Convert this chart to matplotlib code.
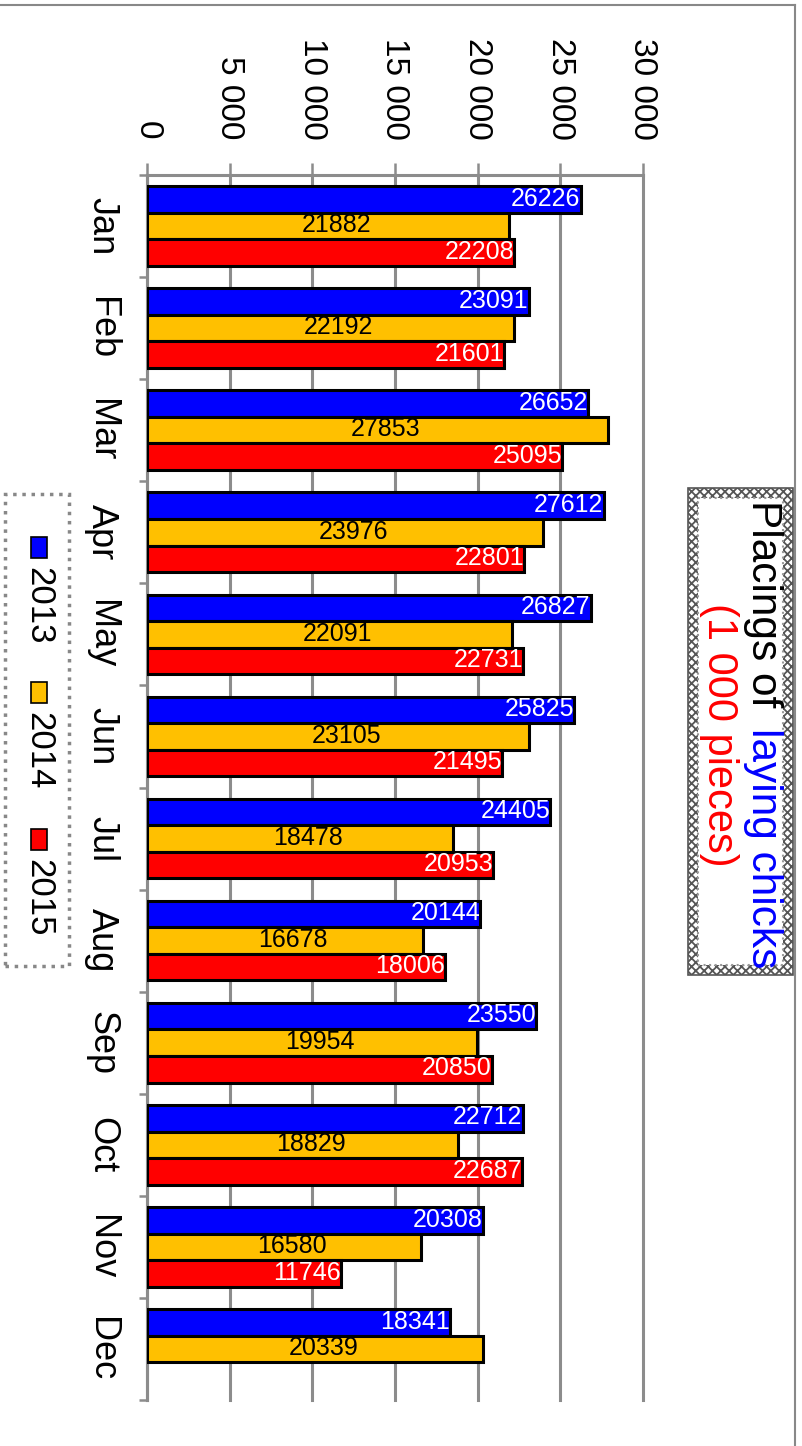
import numpy as np
import matplotlib.pyplot as plt
from matplotlib.patches import Rectangle
from matplotlib.lines import Line2D
from matplotlib.ticker import FuncFormatter

# data: placings of laying chicks, 1 000 pieces
months = ["Jan", "Feb", "Mar", "Apr", "May", "Jun",
          "Jul", "Aug", "Sep", "Oct", "Nov", "Dec"]
years = ["2013", "2014", "2015"]
placings_2013 = [26226, 23091, 26652, 27612, 26827, 25825,
                 24405, 20144, 23550, 22712, 20308, 18341]
placings_2014 = [21882, 22192, 27853, 23976, 22091, 23105,
                 18478, 16678, 19954, 18829, 16580, 20339]
placings_2015 = [22208, 21601, 25095, 22801, 22731, 21495,
                 20953, 18006, 20850, 22687, 11746, np.nan]
colors = ["#0000FF", "#FFC000", "#FF0000"]
label_colors = ["white", "black", "white"]

plt.rcParams["font.family"] = ["Liberation Sans", "DejaVu Sans"]
plt.rcParams["hatch.linewidth"] = 1.3

W, H = 802, 1446
GRAY = "#8c8c8c"


def fx(px):
    return px / W


def fy(py):
    return 1 - py / H


def thousands(v, _=None):
    return f"{int(v):,}".replace(",", " ")


fig = plt.figure(figsize=(W / 100, H / 100), dpi=100)
ax = fig.add_axes([fx(147), fy(1400), fx(643) - fx(147), fy(175) - fy(1400)])

# bars
y = np.arange(len(months))
bar_h = 0.26
series = [placings_2013, placings_2014, placings_2015]
for i, (vals, col, lcol) in enumerate(zip(series, colors, label_colors)):
    vals = np.asarray(vals, dtype=float)
    pos = y + (i - 1) * bar_h
    ok = ~np.isnan(vals)
    ax.barh(pos[ok], vals[ok], height=bar_h, color=col, edgecolor="black",
            linewidth=2.2, zorder=3)
    for v, p in zip(vals[ok], pos[ok]):
        yb = p + bar_h / 2 - 0.02
        if i == 1:
            ax.text(v / 2 + 500, yb, f"{int(v)}", ha="center", va="bottom",
                    fontsize=18, color=lcol, zorder=4)
        else:
            ax.text(v, yb, f"{int(v)}", ha="right", va="bottom",
                    fontsize=18, color=lcol, zorder=4)

# axes
ax.set_xlim(0, 30000)
ax.set_ylim(len(months) - 0.5, -0.5)
ax.xaxis.tick_top()
ax.set_xticks(np.arange(0, 30001, 5000))
ax.xaxis.set_major_formatter(FuncFormatter(thousands))
ax.tick_params(axis="x", which="major", top=True, bottom=False, direction="out",
               length=8.5, width=1.8, color=GRAY, pad=17, labelsize=24,
               labelrotation=-90)
ax.grid(axis="x", color=GRAY, linewidth=2.2, zorder=0)
ax.set_axisbelow(True)
for gl in ax.xaxis.get_gridlines():
    gl.set_clip_on(False)

ax.set_yticks(y)
ax.set_yticklabels(months, rotation=-90, fontsize=26, va="center")
ax.tick_params(axis="y", which="major", length=0, pad=20)
ax.set_yticks(np.arange(-0.5, len(months), 1), minor=True)
ax.tick_params(axis="y", which="minor", length=6, width=1.8, color=GRAY)

for s in ["right", "bottom"]:
    ax.spines[s].set_visible(False)
for s in ["top", "left"]:
    ax.spines[s].set_color(GRAY)
    ax.spines[s].set_linewidth(2.2)

# title box
fig.patches.append(Rectangle((fx(688), fy(975)), fx(793) - fx(688), fy(488) - fy(975),
                             transform=fig.transFigure, facecolor="white",
                             edgecolor="#555555", hatch="xxxx", lw=1.2))
fig.patches.append(Rectangle((fx(698), fy(965)), fx(783) - fx(698), fy(498) - fy(965),
                             transform=fig.transFigure, facecolor="white",
                             edgecolor="#999999", ls=":", lw=1.5))
fig.text(fx(763), fy(500), "Placings of", rotation=-90, ha="center", va="top",
         fontsize=30.5, color="black")
fig.text(fx(763), fy(968), "laying chicks", rotation=-90, ha="center", va="bottom",
         fontsize=30.5, color="#0000FF")
fig.text(fx(719), fy(735), "(1 000 pieces)", rotation=-90, ha="center", va="center",
         fontsize=30, color="#FF0000")

# legend
fig.patches.append(Rectangle((fx(5), fy(966)), fx(69) - fx(5), fy(494) - fy(966),
                             transform=fig.transFigure, fill=False,
                             edgecolor="#888888", ls=":", lw=2.5))
sq_top = [537, 682, 829]
for name, col, top in zip(years, colors, sq_top):
    fig.patches.append(Rectangle((fx(31), fy(top + 21)), fx(47) - fx(31), fy(top) - fy(top + 21),
                                 transform=fig.transFigure, facecolor=col,
                                 edgecolor="black", lw=1.2))
    fig.text(fx(39), fy(top + 30), name, rotation=-90, ha="center", va="top",
             fontsize=25, color="black")

# outer frame
fig.add_artist(Line2D([0, fx(795)], [fy(5), fy(5)], transform=fig.transFigure,
                      color="#888888", lw=1.5))
fig.add_artist(Line2D([fx(795), fx(795)], [fy(5), 0], transform=fig.transFigure,
                      color="#888888", lw=1.5))

fig.savefig("out.png", dpi=100)
